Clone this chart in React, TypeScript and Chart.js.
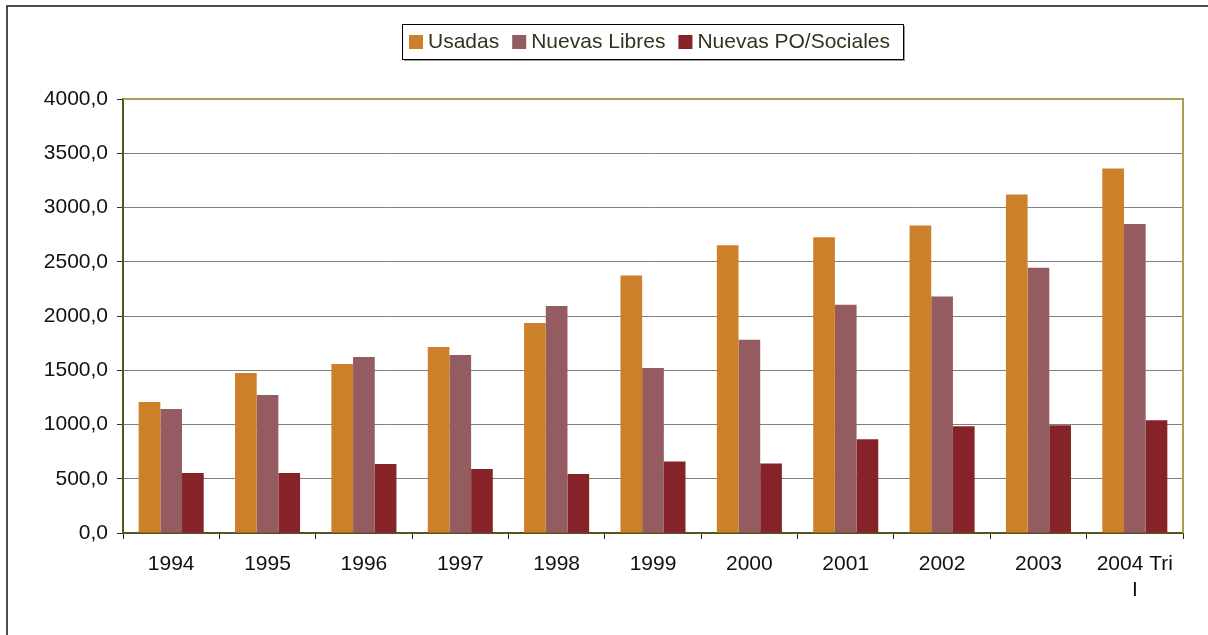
import React, { useEffect, useRef } from "react";
import { Chart, registerables } from "chart.js";

Chart.register(...registerables);

const categories: (string | string[])[] = ["1994", "1995", "1996", "1997", "1998", "1999", "2000", "2001", "2002", "2003", ["2004 Tri", "I"]];
const usadas = [1207, 1475, 1557, 1714, 1935, 2373, 2651, 2725, 2834, 3120, 3360];
const nuevasLibres = [1143, 1272, 1622, 1640, 2092, 1521, 1782, 2104, 2179, 2445, 2848];
const nuevasPO = [553, 553, 636, 590, 544, 660, 641, 863, 984, 993, 1040];
const seriesNames = ["Usadas", "Nuevas Libres", "Nuevas PO/Sociales"];
const seriesColors = ["#CC8029", "#945B60", "#862328"];

const FONT = "'Liberation Sans', Arial, sans-serif";

const decorPlugin = {
  id: "decor",
  afterDraw(chart: any) {
    const ctx = chart.ctx;
    const a = chart.chartArea;
    ctx.save();
    // outer frame
    ctx.strokeStyle = "#111";
    ctx.lineWidth = 1.5;
    ctx.beginPath();
    ctx.moveTo(7, chart.height);
    ctx.lineTo(7, 6);
    ctx.lineTo(chart.width, 6);
    ctx.stroke();
    // plot border top & right
    ctx.strokeStyle = "#A89F55";
    ctx.lineWidth = 2;
    ctx.beginPath();
    ctx.moveTo(a.left, a.top);
    ctx.lineTo(a.right, a.top);
    ctx.lineTo(a.right, a.bottom);
    ctx.stroke();
    // legend
    ctx.font = `21px ${FONT}`;
    const lx = 402, ly = 24, lw = 501, lh = 35;
    ctx.fillStyle = "#9a9a9a";
    ctx.fillRect(lx + 2, ly + 2, lw, lh);
    ctx.fillStyle = "#fff";
    ctx.fillRect(lx, ly, lw, lh);
    ctx.strokeStyle = "#000";
    ctx.lineWidth = 1;
    ctx.strokeRect(lx + 0.5, ly + 0.5, lw, lh);
    let x = 409;
    const cy = ly + lh / 2 + 0.5;
    chart.data.datasets.forEach((ds: any) => {
      ctx.fillStyle = ds.backgroundColor;
      ctx.fillRect(x, cy - 7, 14, 14);
      x += 14 + 5;
      ctx.fillStyle = "#33331f";
      ctx.textBaseline = "middle";
      ctx.textAlign = "left";
      ctx.fillText(ds.label, x, cy);
      x += ctx.measureText(ds.label).width + 13;
    });
    ctx.restore();
  },
};

export default function App() {
  const ref = useRef<HTMLCanvasElement>(null);
  useEffect(() => {
    document.body.style.margin = "0";
    const chart = new Chart(ref.current!, {
      type: "bar",
      data: {
        labels: categories,
        datasets: [usadas, nuevasLibres, nuevasPO].map((d, i) => ({
          label: seriesNames[i],
          data: d,
          backgroundColor: seriesColors[i],
          borderWidth: 0,
          categoryPercentage: 0.675,
          barPercentage: 1,
        })),
      },
      options: {
        animation: false,
        responsive: false,
        maintainAspectRatio: false,
        layout: { padding: { top: 99, right: 25, left: 0, bottom: 0 } },
        plugins: { legend: { display: false }, tooltip: { enabled: false } },
        scales: {
          x: {
            grid: { offset: true, drawOnChartArea: false, drawTicks: true, tickLength: 6, color: "#222" },
            border: { color: "#57521f", width: 2 },
            ticks: { color: "#111", font: { family: FONT, size: 21 }, padding: 13, maxRotation: 0, autoSkip: false },
            afterFit: (s: any) => { s.height = 102; },
          },
          y: {
            min: 0,
            max: 4000,
            grid: { color: "#808080", lineWidth: 1, tickLength: 6, tickColor: "#333" },
            border: { color: "#57521f", width: 2 },
            ticks: {
              stepSize: 500,
              color: "#111",
              font: { family: FONT, size: 21 },
              padding: 9,
              callback: (v: any) => Number(v).toFixed(1).replace(".", ","),
            },
            afterFit: (s: any) => { s.width = 123; },
          },
        },
      },
      plugins: [decorPlugin],
    });
    return () => chart.destroy();
  }, []);
  return (
    <div style={{ width: 1208, height: 635, position: "relative" }}>
      <canvas ref={ref} width={1208} height={635} style={{ display: "block" }} />
    </div>
  );
}
